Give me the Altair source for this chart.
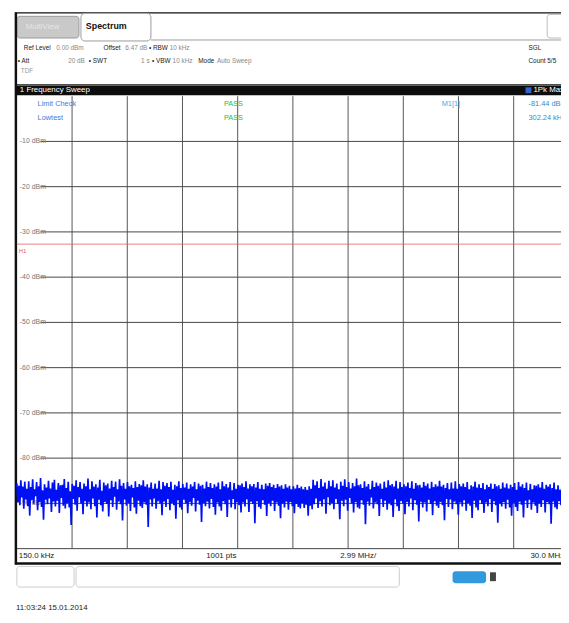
import altair as alt
import pandas as pd
import numpy as np

OFF = 8
W, H = 561, 615
FONT = "Liberation Sans Narrow, Liberation Sans, Arial, sans-serif"

# ---- data ----
start_mhz = 0.15
stop_mhz = 30.0
n_div = 10
db_top = 0
db_bottom = -100
y_label_vals = [-10, -20, -30, -40, -50, -60, -70, -80, -90]
y_label_txt = ["-10 dBm", "-20 dBm", "-30 dBm", "-40 dBm", "-50 dBm",
               "-60 dBm", "-70 dBm", "-80 dBm", "-90 dBm"]
h1_level = -32.7
bottom_labels = ["150.0 kHz", "1001 pts", "2.99 MHz/", "30.0 MHz"]

trace_dbm = [
    -85.6, -89.8, -86.1, -90.4, -84.9, -88.7, -86.3, -91.2, -85.2, -89.1,
    -86.8, -90.6, -85.1, -92.7, -86.4, -89.3, -84.7, -90.1, -86.9, -88.4,
    -85.3, -91.5, -86.2, -89.7, -84.4, -90.8, -87.1, -93.6, -85.8, -89.2,
    -86.5, -90.2, -85.0, -88.9, -86.7, -91.9, -85.4, -89.6, -84.8, -90.7,
    -87.0, -89.4, -85.5, -92.1, -86.0, -88.8, -85.9, -90.5, -84.6, -91.1,
    -86.6, -89.9, -85.2, -90.9, -87.3, -94.8, -85.7, -89.0, -86.1, -90.3,
    -84.9, -91.6, -86.4, -88.6, -85.3, -90.0, -86.8, -92.4, -85.6, -89.5,
    -86.2, -90.7, -84.5, -89.8, -86.9, -91.3, -85.1, -88.9, -86.3, -90.6,
    -85.8, -93.1, -86.5, -89.2, -84.8, -90.4, -87.2, -91.8, -85.4, -89.7,
    -86.0, -90.1, -85.6, -92.9, -86.7, -89.3, -85.0, -90.8, -86.4, -88.5,
    -85.2, -91.4, -86.9, -89.6, -84.7, -90.2, -86.1, -93.8, -85.5, -89.1,
    -86.8, -90.5, -85.3, -89.9, -86.2, -91.7, -85.9, -88.7, -86.6, -90.9,
    -85.1, -92.3, -86.4, -89.4, -85.7, -90.6, -86.0, -91.0, -84.9, -89.8,
    -86.3, -90.3, -85.8, -95.2, -86.5, -89.1, -85.4, -90.7, -86.8, -88.9,
    -85.6, -91.2, -86.7, -89.5, -85.0, -90.0, -86.9, -92.6, -85.3, -89.6,
    -86.1, -90.8, -85.5, -89.0, -86.4, -91.5, -85.2, -89.9, -87.0, -90.4,
    -85.9, -93.4, -86.2, -89.3, -85.1, -90.9, -86.6, -91.4, -85.7, -89.2,
    -86.5, -90.0, -85.4, -92.2, -86.8, -89.7, -85.8, -90.5, -86.3, -88.8,
    -85.3, -91.8, -86.9, -89.4, -85.6, -90.3, -86.1, -94.1, -85.9, -89.9,
    -86.7, -90.6, -85.2, -89.6, -86.4, -91.1, -85.5, -89.0, -86.6, -90.8,
    -85.8, -92.5, -86.3, -89.8, -85.4, -90.7, -86.9, -91.6, -85.1, -89.5,
    -86.2, -90.2, -85.7, -93.0, -86.5, -89.2, -85.3, -90.9, -87.1, -89.0,
    -85.5, -91.3, -86.8, -89.7, -85.9, -90.4, -86.0, -92.0, -85.6, -89.8,
    -86.4, -90.7, -85.1, -89.1, -86.7, -91.9, -85.8, -89.6, -86.2, -90.1,
    -85.7, -94.4, -86.5, -89.5, -85.3, -90.8, -86.8, -91.2, -85.9, -89.3,
    -86.9, -90.3, -85.6, -92.8, -86.1, -89.9, -85.5, -90.6, -86.4, -89.4,
    -85.9, -91.7, -86.6, -89.8, -85.7, -90.5, -86.3, -93.3, -86.0, -90.0,
    -86.8, -90.9, -85.8, -89.6, -86.5, -91.4, -86.1, -89.7, -86.9, -90.6,
    -86.2, -92.2, -86.7, -90.1, -85.9, -90.8, -86.6, -91.1, -86.3, -89.9,
    -86.9, -91.0, -86.4, -90.3, -87.0, -92.7, -86.2, -90.5, -86.8, -91.3,
    -84.8, -90.2, -86.0, -88.9, -85.1, -91.0, -86.6, -89.5, -84.6, -90.7,
    -86.3, -89.1, -85.4, -92.3, -86.8, -88.6, -85.0, -90.4, -86.2, -89.9,
    -84.9, -91.3, -86.5, -89.0, -85.6, -90.1, -86.9, -93.5, -85.2, -89.4,
    -86.1, -90.6, -84.7, -89.2, -86.4, -91.6, -85.3, -88.8, -86.7, -90.0,
    -85.5, -92.0, -86.2, -89.7, -84.5, -90.9, -86.0, -91.2, -85.8, -89.3,
    -86.6, -90.3, -85.1, -94.6, -86.3, -89.6, -85.7, -90.5, -86.9, -88.7,
    -85.0, -91.1, -86.4, -89.8, -85.4, -90.2, -86.1, -92.8, -85.6, -89.0,
    -86.8, -90.8, -85.2, -89.4, -86.5, -91.4, -84.9, -89.9, -86.0, -90.4,
    -85.7, -93.0, -86.3, -89.1, -85.0, -90.6, -86.7, -91.7, -85.3, -89.5,
    -86.4, -90.0, -85.8, -92.4, -86.2, -89.7, -85.4, -90.7, -86.6, -88.9,
    -85.1, -91.5, -86.8, -89.3, -85.5, -90.3, -86.0, -94.0, -85.9, -89.6,
    -86.5, -90.9, -85.3, -89.8, -86.1, -91.8, -85.6, -89.2, -86.7, -90.1,
    -85.2, -92.6, -86.4, -89.5, -85.8, -90.5, -86.2, -91.0, -85.0, -89.7,
    -86.3, -90.4, -85.9, -93.7, -86.6, -89.0, -85.5, -90.8, -86.9, -89.1,
    -85.4, -91.3, -86.7, -89.6, -85.1, -90.2, -86.8, -92.5, -85.7, -89.8,
    -86.2, -90.7, -85.6, -89.3, -86.4, -91.6, -85.3, -89.9, -86.9, -90.5,
    -86.0, -93.2, -86.3, -89.4, -85.2, -90.9, -86.5, -91.5, -85.8, -89.3,
    -86.6, -90.1, -85.5, -92.1, -86.9, -89.8, -85.9, -90.6, -86.4, -89.0,
    -85.6, -91.9, -86.8, -89.5, -85.7, -90.4, -86.2, -94.3, -86.0, -90.0,
    -86.8, -90.7, -85.4, -89.7, -86.5, -91.2, -85.6, -89.2, -86.7, -90.9,
    -85.9, -92.7, -86.4, -89.9, -85.5, -90.8, -87.0, -91.7, -85.3, -89.6,
    -86.3, -90.3, -85.8, -93.1, -86.6, -89.4, -85.4, -91.0, -87.1, -89.2,
    -85.7, -91.4, -86.9, -89.8, -86.0, -90.5, -86.1, -92.1, -85.8, -90.0,
    -86.5, -90.8, -85.3, -89.3, -86.8, -92.0, -85.9, -89.7, -86.3, -90.2,
    -85.8, -94.5, -86.6, -89.6, -85.4, -90.9, -86.9, -91.3, -86.0, -89.5,
    -87.0, -90.4, -85.7, -92.9, -86.2, -90.0, -85.6, -90.7, -86.5, -91.2,
]

# ---- tables ----
freq = np.linspace(start_mhz, stop_mhz, len(trace_dbm))
trace_df = pd.DataFrame({"f": freq, "p": trace_dbm})
step = (stop_mhz - start_mhz) / n_div
vgrid_df = pd.DataFrame({"f": [start_mhz + k * step for k in range(1, n_div)]})
hgrid_df = pd.DataFrame({"d": y_label_vals, "lab": y_label_txt})
h1_df = pd.DataFrame({"d": [h1_level]})
ONE = pd.DataFrame({"k": [0]})

xs = alt.Scale(domain=[start_mhz, stop_mhz], range=[17 - OFF, 577 - OFF], nice=False, zero=False)
ys = alt.Scale(domain=[db_bottom, db_top], range=[552 - OFF, 93 - OFF], nice=False, zero=False)


def rect(x1, y1, x2, y2, **kw):
    return alt.Chart(ONE).mark_rect(**kw).encode(
        x=alt.value(x1 - OFF), x2=alt.value(x2 - OFF),
        y=alt.value(y1 - OFF), y2=alt.value(y2 - OFF))


def rule(x1, y1, x2, y2, color="#000", w=1, **kw):
    return alt.Chart(ONE).mark_rule(color=color, strokeWidth=w, **kw).encode(
        x=alt.value(x1 - OFF), x2=alt.value(x2 - OFF),
        y=alt.value(y1 - OFF), y2=alt.value(y2 - OFF))


def txt(s, x, y, color="#222", size=8, weight="normal", align="left"):
    return alt.Chart(ONE).mark_text(text=s, align=align, baseline="middle", fontSize=size,
                                    fontWeight=weight, color=color, font=FONT).encode(
        x=alt.value(x - OFF), y=alt.value(y - OFF))


layers = []
# frame & tabs
layers.append(rule(15, 8.5, 575, 8.5, "#111", 1.5))
layers.append(rect(17, 12, 80, 34, fill="#c9c9c9", stroke="#999", strokeWidth=1, cornerRadius=3))
layers.append(rect(82, 9, 153, 37, fill="#ffffff", stroke="#9a9a9a", strokeWidth=1, cornerRadius=4))
layers.append(rule(153, 36, 575, 36, "#9a9a9a", 1))
layers.append(rect(555, 10, 580, 34, fill="#ffffff", stroke="#bbbbbb", strokeWidth=1, cornerRadius=3))
layers.append(rule(16, 8, 16, 568, "#111", 2.5))
# black bar
layers.append(rect(17, 81, 580, 92, fill="#0d0d0d"))
layers.append(rule(17, 82, 580, 82, "#777", 1))
layers.append(rect(533, 84, 539, 90, fill="#3366cc"))
# plot grid
layers.append(alt.Chart(vgrid_df).mark_rule(color="#555", strokeWidth=1).encode(
    x=alt.X("f:Q", scale=xs, axis=None), y=alt.value(93 - OFF), y2=alt.value(552 - OFF)))
layers.append(alt.Chart(hgrid_df).mark_rule(color="#444", strokeWidth=1).encode(
    y=alt.Y("d:Q", scale=ys, axis=None), x=alt.value(41 - OFF), x2=alt.value(577 - OFF)))
layers.append(alt.Chart(hgrid_df).mark_text(align="left", baseline="middle", fontSize=7,
                                           color="#777", font=FONT).encode(
    y=alt.Y("d:Q", scale=ys, axis=None), x=alt.value(20 - OFF), text="lab:N"))
layers.append(rule(17, 552, 577, 552, "#444", 1))
# H1 line
layers.append(alt.Chart(h1_df).mark_rule(color="#e06060", strokeWidth=1, opacity=0.8).encode(
    y=alt.Y("d:Q", scale=ys, axis=None), x=alt.value(17 - OFF), x2=alt.value(577 - OFF)))
layers.append(txt("H1", 19, 250, "#e06060", 6))
# trace
layers.append(alt.Chart(trace_df).mark_line(color="#0010f5", strokeWidth=1.7).encode(
    x=alt.X("f:Q", scale=xs, axis=None), y=alt.Y("p:Q", scale=ys, axis=None)))
# bottom strip
layers.append(rule(15, 567, 580, 567, "#111", 2.5))
bx = [19, 209, 345, 538]
for lab, x in zip(bottom_labels, bx):
    layers.append(txt(lab, x, 560, "#222", 8))
# lower boxes
layers.append(rect(17, 570, 75, 591, fill="#ffffff", stroke="#cccccc", strokeWidth=1, cornerRadius=3))
layers.append(rect(77, 570, 405, 591, fill="#ffffff", stroke="#cccccc", strokeWidth=1, cornerRadius=3))
layers.append(rect(459, 575, 493, 587, fill="#3399dd", cornerRadius=3))
layers.append(rect(497, 576, 503, 585, fill="#444444"))
layers.append(txt("11:03:24  15.01.2014", 16, 612, "#222", 8))

# header texts
layers.append(txt("MultiView", 26, 23, "#e6e6e6", 8))
layers.append(txt("Spectrum", 87, 22, "#111", 9, "bold"))
hdr = [
    ("Ref Level", 24, 44, "#222"), ("0.00 dBm", 57, 44, "#888"),
    ("Offset", 105, 44, "#222"), ("6.47 dB", 127, 44, "#888"),
    ("\u2022 RBW", 151, 44, "#222"), ("10 kHz", 172, 44, "#888"),
    ("\u2022 Att", 18, 57, "#222"), ("20 dB", 69, 57, "#888"),
    ("\u2022 SWT", 90, 57, "#222"), ("1 s", 143, 57, "#888"),
    ("\u2022 VBW", 154, 57, "#222"), ("10 kHz", 175, 57, "#888"),
    ("Mode", 201, 57, "#222"), ("Auto Sweep", 220, 57, "#888"),
    ("TDF", 21, 67, "#999"),
    ("SGL", 536, 44, "#222"), ("Count 5/5", 536, 57, "#222"),
]
for s, x, y, c in hdr:
    layers.append(txt(s, x, y, c, 6.5))
layers.append(txt("1 Frequency Sweep", 20, 87, "#ffffff", 8))
layers.append(txt("1Pk Max", 541, 87, "#ffffff", 8))
# limit / marker info
info = [
    ("Limit Check", 38, 101, "#4a78d0"), ("Lowtest", 38, 115, "#4a78d0"),
    ("PASS", 227, 101, "#33bb33"), ("PASS", 227, 115, "#33bb33"),
    ("M1[1]", 448, 101, "#44aadd"),
    ("-81.44 dBm", 536, 101, "#3388cc"), ("302.24 kHz", 536, 115, "#3388cc"),
]
for s, x, y, c in info:
    layers.append(txt(s, x, y, c, 7.5))

chart = alt.layer(*layers).properties(
    width=W, height=H, autosize=alt.AutoSizeParams(type="none"), padding=0
).configure_view(stroke=None)

chart.save("out.html", embed_options={"renderer": "svg", "actions": False})
